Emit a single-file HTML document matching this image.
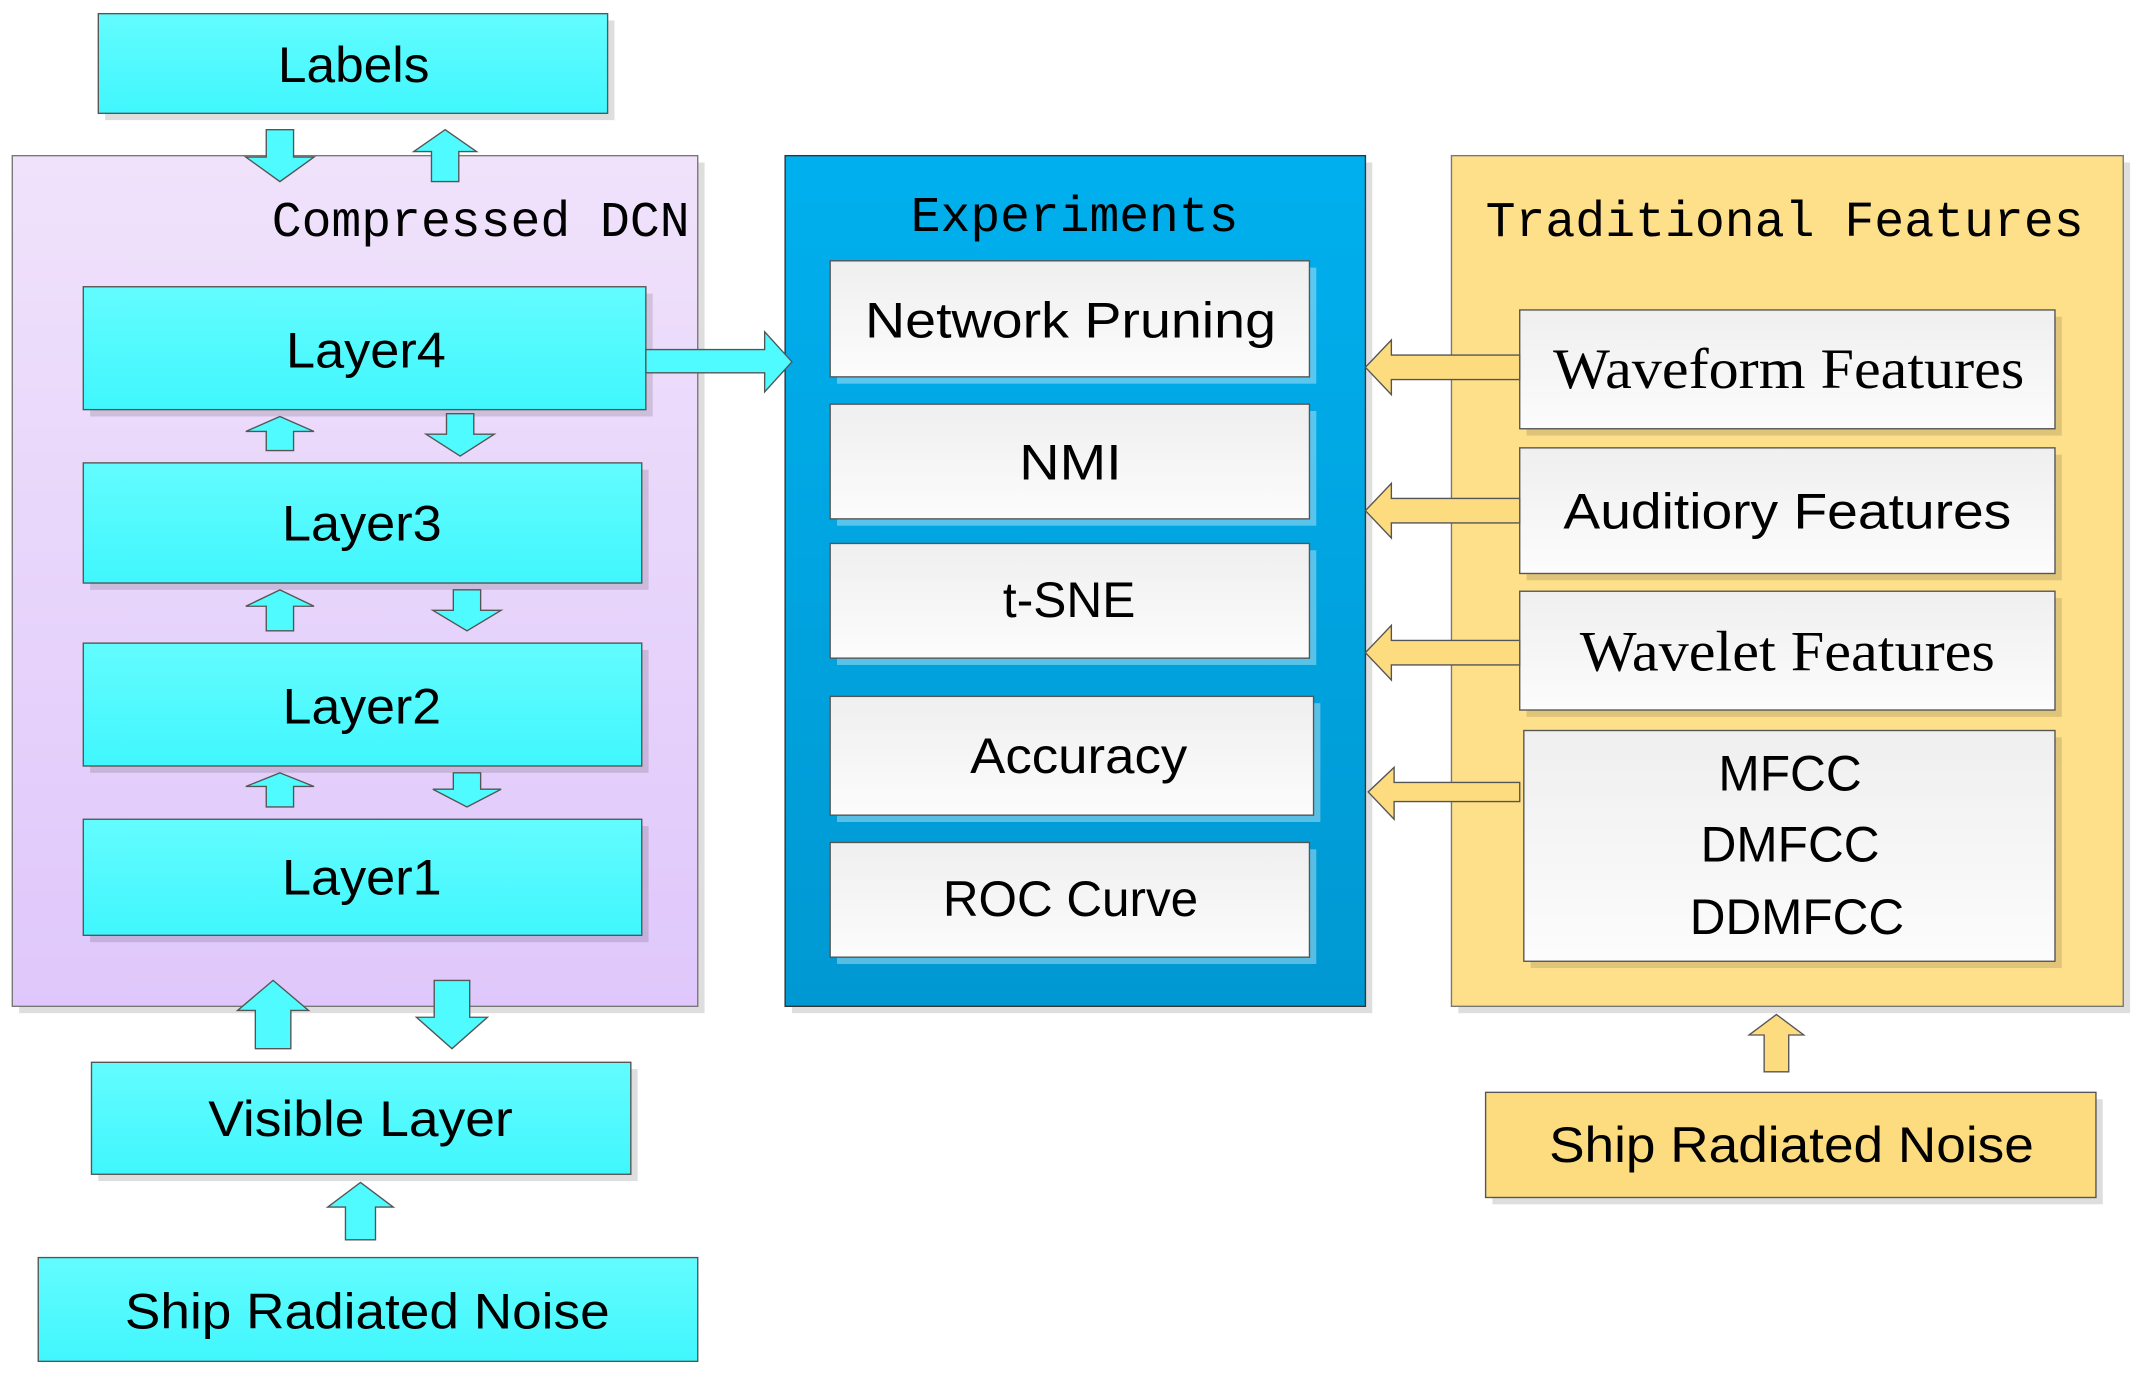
<!DOCTYPE html>
<html><head><meta charset="utf-8"><style>html,body{margin:0;padding:0;background:#fff}svg{display:block}</style></head>
<body>
<svg width="2141" height="1378" viewBox="0 0 1568 1009.2" xmlns="http://www.w3.org/2000/svg">
<defs>
<linearGradient id="cy" x1="0" y1="0" x2="0" y2="1"><stop offset="0" stop-color="#63fcff"/><stop offset="1" stop-color="#40f7fd"/></linearGradient>
<linearGradient id="pu" x1="0" y1="0" x2="0" y2="1"><stop offset="0" stop-color="#f0e2fb"/><stop offset="1" stop-color="#dfc7fb"/></linearGradient>
<linearGradient id="bl" x1="0" y1="0" x2="0" y2="1"><stop offset="0" stop-color="#00b0ee"/><stop offset="1" stop-color="#0098d2"/></linearGradient>
<linearGradient id="gr" x1="0" y1="0" x2="0" y2="1"><stop offset="0" stop-color="#efefef"/><stop offset="1" stop-color="#fcfcfc"/></linearGradient>
</defs>
<g stroke="#555" stroke-width="1">
<g stroke="none" fill="#000" opacity="0.13">
<rect x="77" y="15" width="373" height="73"/>
<rect x="14" y="119" width="502" height="623"/>
<rect x="580" y="119" width="425" height="623"/>
<rect x="1068" y="119" width="492" height="623"/>
<rect x="72" y="783" width="395" height="82"/>
<rect x="1093" y="805" width="447" height="77"/>
</g>
<rect x="72" y="10" width="373" height="73" fill="url(#cy)"/>
<rect x="9" y="114" width="502" height="623" fill="url(#pu)" stroke="#777"/>
<rect x="575" y="114" width="425" height="623" fill="url(#bl)" stroke="#333"/>
<rect x="1063" y="114" width="492" height="623" fill="#fee08a" stroke="#777"/>
<g stroke="none" fill="#000" opacity="0.12">
<rect x="66" y="215" width="412" height="90"/><rect x="66" y="344" width="409" height="88"/>
<rect x="66" y="476" width="409" height="90"/><rect x="66" y="605" width="409" height="85"/>
<rect x="1118" y="232" width="392" height="87"/><rect x="1118" y="333" width="392" height="92"/>
<rect x="1118" y="438" width="392" height="87"/><rect x="1121" y="540" width="389" height="169"/>
</g>
<g stroke="none" fill="#fff" opacity="0.35">
<rect x="613" y="196" width="351" height="85"/><rect x="613" y="301" width="351" height="84"/>
<rect x="613" y="403" width="351" height="84"/><rect x="613" y="515" width="354" height="87"/>
<rect x="613" y="622" width="351" height="84"/>
</g>
<rect x="61" y="210" width="412" height="90" fill="url(#cy)"/>
<rect x="61" y="339" width="409" height="88" fill="url(#cy)"/>
<rect x="61" y="471" width="409" height="90" fill="url(#cy)"/>
<rect x="61" y="600" width="409" height="85" fill="url(#cy)"/>
<rect x="67" y="778" width="395" height="82" fill="url(#cy)"/>
<rect x="28" y="921" width="483" height="76" fill="url(#cy)"/>
<rect x="608" y="191" width="351" height="85" fill="url(#gr)"/>
<rect x="608" y="296" width="351" height="84" fill="url(#gr)"/>
<rect x="608" y="398" width="351" height="84" fill="url(#gr)"/>
<rect x="608" y="510" width="354" height="87" fill="url(#gr)"/>
<rect x="608" y="617" width="351" height="84" fill="url(#gr)"/>
<rect x="1113" y="227" width="392" height="87" fill="url(#gr)"/>
<rect x="1113" y="328" width="392" height="92" fill="url(#gr)"/>
<rect x="1113" y="433" width="392" height="87" fill="url(#gr)"/>
<rect x="1116" y="535" width="389" height="169" fill="url(#gr)"/>
<rect x="1088" y="800" width="447" height="77" fill="#fddc80"/>
<g fill="#50fbff">
<polygon points="195,95 215,95 215,115 230,115 205,133 180,115 195,115"/>
<polygon points="326,95 349,111 336,111 336,133 316,133 316,111 303,111"/>
<polygon points="205,305 230,316 215,316 215,330 195,330 195,316 180,316"/>
<polygon points="327,303 347,303 347,318 362,318 337,334 312,318 327,318"/>
<polygon points="205,432 230,444 215,444 215,462 195,462 195,444 180,444"/>
<polygon points="332,432 352,432 352,447 367,447 342,462 317,447 332,447"/>
<polygon points="205,566 230,576 215,576 215,591 195,591 195,576 180,576"/>
<polygon points="332,566 352,566 352,578 367,578 342,591 317,578 332,578"/>
<polygon points="200,718 226,740 213,740 213,768 187,768 187,740 174,740"/>
<polygon points="318,718 344,718 344,745 357,745 331,768 305,745 318,745"/>
<polygon points="264,866 288,884 275,884 275,908 253,908 253,884 240,884"/>
<polygon points="473,256 560,256 560,243 580,265 560,287 560,273 473,273"/>
</g>
<g fill="#fddc80">
<polygon points="1113,260 1019,260 1019,249 1000,269 1019,289 1019,278 1113,278"/>
<polygon points="1113,365 1019,365 1019,354 1000,374 1019,394 1019,383 1113,383"/>
<polygon points="1113,469 1019,469 1019,458 1000,478 1019,498 1019,487 1113,487"/>
<polygon points="1113,573 1021,573 1021,562 1002,580 1021,600 1021,587 1113,587"/>
<polygon points="1301,743 1321,758 1310,758 1310,785 1292,785 1292,758 1281,758"/>
</g>
</g>
<g font-family="Liberation Sans, sans-serif" font-size="37" fill="#000" text-anchor="middle" lengthAdjust="spacingAndGlyphs">
<text x="259" y="60" textLength="111" lengthAdjust="spacingAndGlyphs">Labels</text>
<text x="268" y="269" textLength="117" lengthAdjust="spacingAndGlyphs">Layer4</text>
<text x="265" y="396" textLength="117" lengthAdjust="spacingAndGlyphs">Layer3</text>
<text x="265" y="530" textLength="116" lengthAdjust="spacingAndGlyphs">Layer2</text>
<text x="265" y="655" textLength="117" lengthAdjust="spacingAndGlyphs">Layer1</text>
<text x="264" y="832" textLength="223" lengthAdjust="spacingAndGlyphs">Visible Layer</text>
<text x="269" y="973" textLength="355" lengthAdjust="spacingAndGlyphs">Ship Radiated Noise</text>
<text x="784" y="247" textLength="301" lengthAdjust="spacingAndGlyphs">Network Pruning</text>
<text x="784" y="351" textLength="75" lengthAdjust="spacingAndGlyphs">NMI</text>
<text x="783" y="452" textLength="97" lengthAdjust="spacingAndGlyphs">t-SNE</text>
<text x="790" y="566" textLength="159" lengthAdjust="spacingAndGlyphs">Accuracy</text>
<text x="784" y="671" textLength="187" lengthAdjust="spacingAndGlyphs">ROC Curve</text>
<text x="1309" y="387" textLength="328" lengthAdjust="spacingAndGlyphs">Auditiory Features</text>
<text x="1311" y="579" textLength="105" lengthAdjust="spacingAndGlyphs">MFCC</text>
<text x="1311" y="631" textLength="131" lengthAdjust="spacingAndGlyphs">DMFCC</text>
<text x="1316" y="684" textLength="157" lengthAdjust="spacingAndGlyphs">DDMFCC</text>
<text x="1312" y="851" textLength="355" lengthAdjust="spacingAndGlyphs">Ship Radiated Noise</text>
</g>
<g font-family="Liberation Serif, serif" font-size="42" fill="#000" text-anchor="middle">
<text x="1310" y="284" textLength="345" lengthAdjust="spacingAndGlyphs">Waveform Features</text>
<text x="1309" y="491" textLength="304" lengthAdjust="spacingAndGlyphs">Wavelet Features</text>
</g>
<g font-family="Liberation Mono, monospace" font-size="37" fill="#000" text-anchor="middle">
<text x="352" y="173" textLength="306" lengthAdjust="spacingAndGlyphs">Compressed DCN</text>
<text x="787" y="169" textLength="240" lengthAdjust="spacingAndGlyphs">Experiments</text>
<text x="1307" y="173" textLength="438" lengthAdjust="spacingAndGlyphs">Traditional Features</text>
</g>
</svg>
</body></html>
